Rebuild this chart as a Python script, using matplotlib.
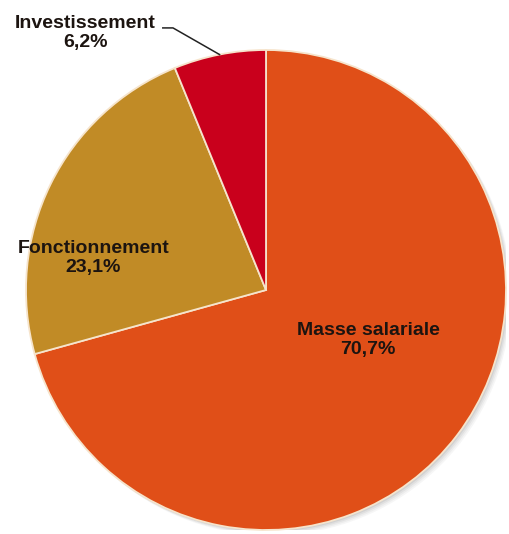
import numpy as np
import matplotlib
matplotlib.use("Agg")
import matplotlib.pyplot as plt
from matplotlib.patches import Circle

labels = ["Masse salariale", "Fonctionnement", "Investissement"]
shares = [70.7, 23.1, 6.2]
share_text = ["70,7%", "23,1%", "6,2%"]
colors = ["#E04F18", "#C18B26", "#C9001C"]

plt.rcParams['font.family'] = ['Liberation Sans', 'DejaVu Sans']

fig = plt.figure(figsize=(5.1, 5.34), dpi=100)
ax = fig.add_axes([26 / 510, 4 / 534, 480 / 510, 480 / 534])
ax.set_xlim(-1, 1)
ax.set_ylim(-1, 1)
ax.set_aspect('equal')
ax.axis('off')

# soft shadow bottom-right
for i, a in enumerate([0.05, 0.06, 0.08, 0.1]):
    off = 0.022 - i * 0.005
    ax.add_patch(Circle((off, -off), 1.0, color='#555555', alpha=a, lw=0, zorder=0))

wedges, _ = ax.pie(shares, colors=colors, startangle=90, counterclock=False,
                   radius=1.0, center=(0, 0), frame=True,
                   wedgeprops=dict(edgecolor='#F6E4CC', linewidth=1.3))
ax.set_xlim(-1, 1)
ax.set_ylim(-1, 1)
ax.axis('off')

tkw = dict(ha='center', va='center', fontsize=14, fontweight='bold',
           color='#1c1410', linespacing=1.15)

ax.text(0.425, -0.208, labels[0] + "\n" + share_text[0], **tkw)
ax.text(-0.72, 0.133, labels[1] + "\n" + share_text[1], **tkw)
ax.text(-0.754, 1.07, labels[2] + "\n" + share_text[2], clip_on=False, **tkw)

# leader line to the small slice
w = wedges[2]
mid = np.deg2rad((w.theta1 + w.theta2) / 2)
ex, ey = np.cos(mid), np.sin(mid)
ax.plot([-0.43, -0.3875, ex], [1.092, 1.092, ey], color='#222222', lw=1.1,
        clip_on=False, zorder=5)

fig.savefig("out.png", dpi=100, facecolor='white')
